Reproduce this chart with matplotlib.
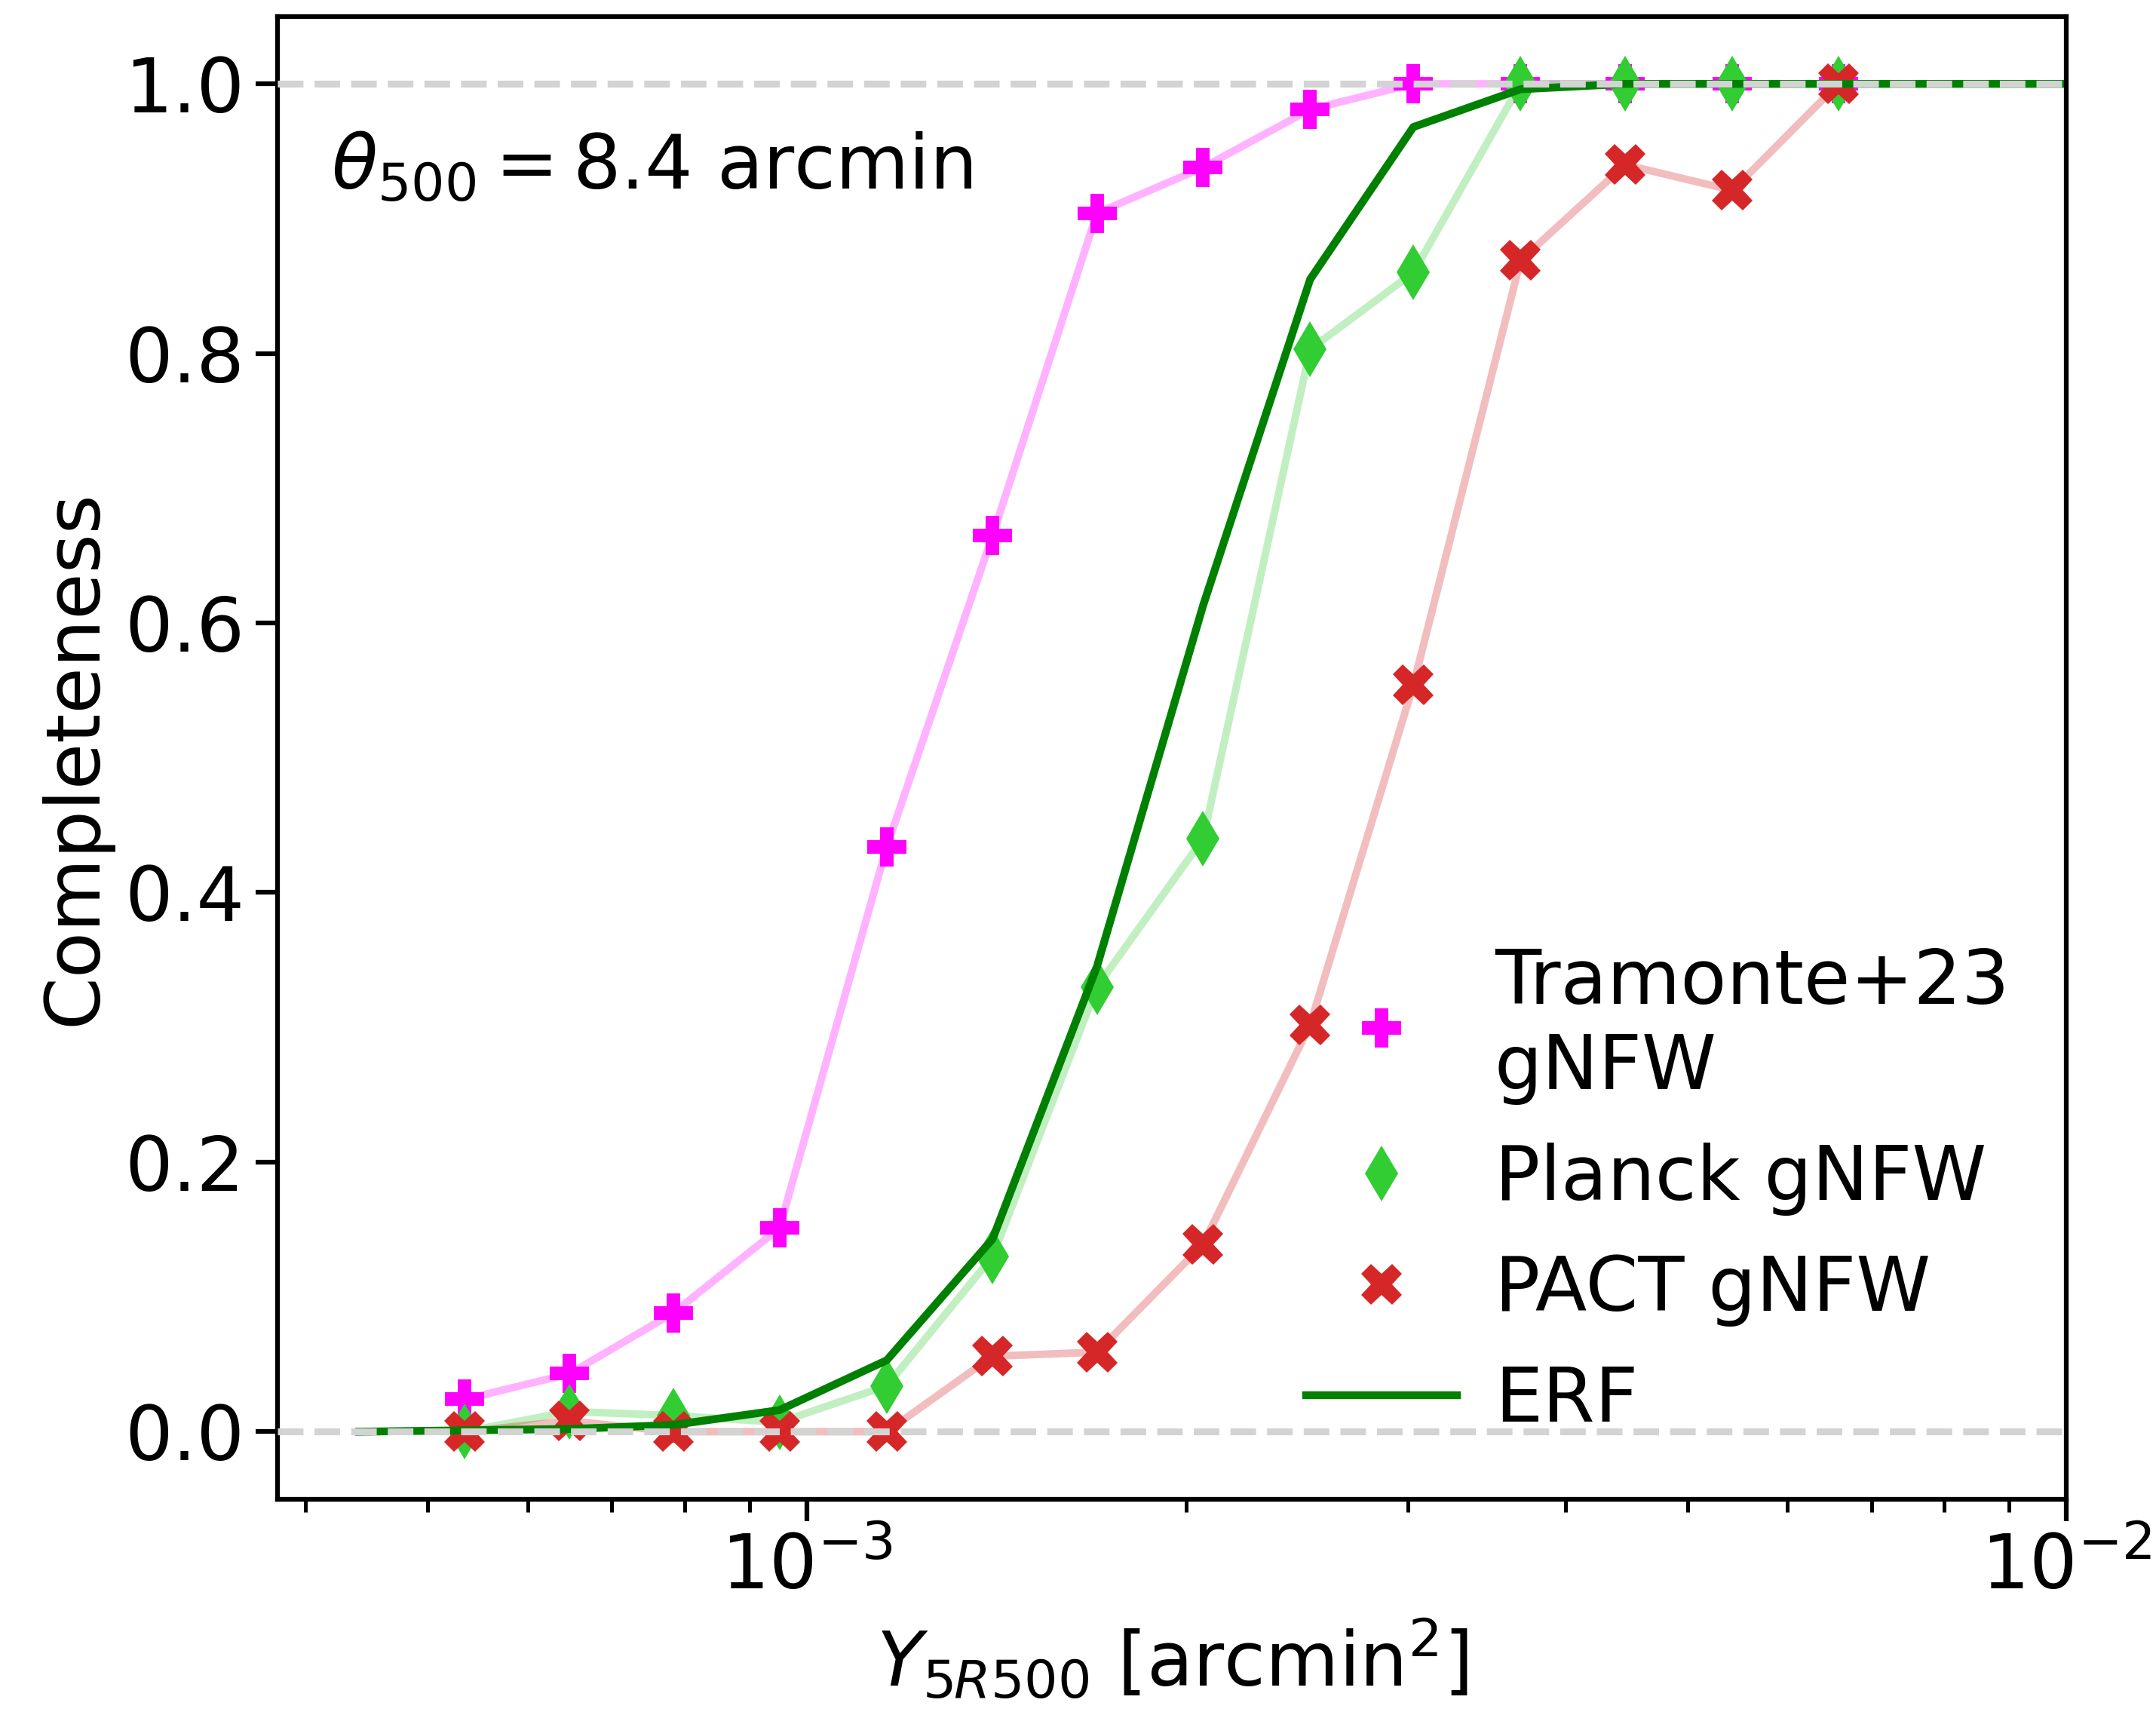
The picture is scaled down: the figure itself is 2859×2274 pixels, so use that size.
import numpy as np
import matplotlib
matplotlib.use("Agg")
import matplotlib.pyplot as plt

plt.rcParams['font.size'] = 24

# Y_5R500 grid [arcmin^2]
y5r = [5.35e-4, 6.48e-4, 7.83e-4, 9.51e-4, 1.157e-3, 1.404e-3, 1.699e-3,
       2.063e-3, 2.509e-3, 3.03e-3, 3.686e-3, 4.463e-3, 5.43e-3, 6.59e-3]

tramonte = [0.024, 0.043, 0.088, 0.151, 0.434, 0.665, 0.904,
            0.938, 0.981, 1.0, 1.0, 1.0, 1.0, 1.0]
planck = [0.0, 0.015, 0.012, 0.007, 0.034, 0.13, 0.33,
          0.44, 0.803, 0.86, 1.0, 1.0, 1.0, 1.0]
pact = [0.0, 0.008, 0.0, 0.0, 0.0, 0.056, 0.059,
        0.139, 0.302, 0.554, 0.869, 0.94, 0.921, 1.0]

# ERF fit, evaluated on a slightly wider grid
erf_x = [4.41e-4, 5.35e-4, 6.48e-4, 7.83e-4, 9.51e-4, 1.157e-3, 1.404e-3, 1.699e-3,
         2.063e-3, 2.509e-3, 3.03e-3, 3.686e-3, 4.463e-3, 5.43e-3, 6.59e-3,
         8.0e-3, 9.7e-3, 1.18e-2]
erf_y = [0.0, 0.001, 0.002, 0.005, 0.016, 0.053, 0.143, 0.345,
         0.613, 0.855, 0.968, 0.996, 1.0, 1.0, 1.0, 1.0, 1.0, 1.0]

fig, ax = plt.subplots(figsize=(9.53, 7.58), dpi=300)
fig.subplots_adjust(left=0.1288, right=0.9585, top=0.9904, bottom=0.1259)

# faded connecting lines
ax.plot(y5r, tramonte, color='magenta', alpha=0.3, lw=2.4)
ax.plot(y5r, planck, color='limegreen', alpha=0.3, lw=2.4)
ax.plot(y5r, pact, color='tab:red', alpha=0.3, lw=2.4)

# markers
ax.plot(y5r, tramonte, 'P', color='magenta', ms=12.5, mew=0, ls='', label='Tramonte+23\ngNFW')
ax.plot(y5r, planck, 'd', color='limegreen', ms=12.5, mew=0, ls='', label='Planck gNFW')
ax.plot(y5r, pact, 'X', color='tab:red', ms=13, mew=0, ls='', label='PACT gNFW')

ax.plot(erf_x, erf_y, color='green', lw=2.5, label='ERF')

ax.axhline(0, color='lightgray', ls='--', lw=2.2, zorder=5)
ax.axhline(1, color='lightgray', ls='--', lw=2.2, zorder=5)

ax.set_xscale('log')
ax.set_xlim(3.8e-4, 1e-2)
ax.set_ylim(-0.05, 1.05)

ax.set_xlabel(r'$Y_{5R500}$ [arcmin$^2$]')
ax.set_ylabel('Completeness')

ax.text(0.03, 0.898, r'$\theta_{500} = 8.4$ arcmin', transform=ax.transAxes,
        va='center', ha='left')

ax.legend(loc='lower right', frameon=False, bbox_to_anchor=(1.006, -0.004),
          handletextpad=0.5)

for s in ax.spines.values():
    s.set_linewidth(1.5)
ax.tick_params(which='major', width=1.5, length=7)
ax.tick_params(which='minor', width=1.2, length=4)

fig.savefig('out.png', dpi=300)
